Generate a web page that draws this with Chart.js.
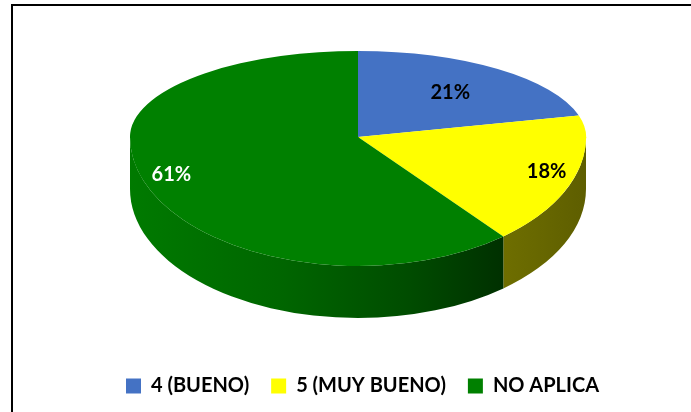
<!DOCTYPE html>
<html>
<head>
<meta charset="utf-8">
<script src="https://cdn.jsdelivr.net/npm/chart.js@4"></script>
<style>
html, body { margin: 0; padding: 0; background: #fff; }
#wrap { position: relative; width: 691px; height: 412px; }
</style>
</head>
<body>
<div id="wrap"><canvas id="chart-pie3d"></canvas></div>
<script>
const categories = ['4 (BUENO)', '5 (MUY BUENO)', 'NO APLICA'];
const percents = [21, 18, 61];
const topColors = ['#4472C4', '#FFFF00', '#008000'];
const labelColors = ['#000000', '#000000', '#ffffff'];

// tilted pie on screen: vertex, half widths, wall depth
const PIE = { cx: 358, cy: 137, rx: 228, ryTop: 86, ryBottom: 129, depth: 52 };
const LABEL_K = [0.66, 0.87, 0.87];

function sideGradient(ctx, i, x0, x1) {
    const g = ctx.createLinearGradient(x0, 0, x1, 0);
    if (i === 2) {
        g.addColorStop(0, '#007a00');
        g.addColorStop(0.4, '#006600');
        g.addColorStop(0.75, '#004c00');
        g.addColorStop(1, '#003000');
    } else if (i === 1) {
        g.addColorStop(0, '#6e6e00');
        g.addColorStop(1, '#5e5e00');
    } else {
        g.addColorStop(0, '#2f5597');
        g.addColorStop(1, '#203864');
    }
    return g;
}

const pie3d = {
    id: 'pie3d',
    beforeDraw(chart) {
        const ctx = chart.ctx;
        ctx.save();
        ctx.strokeStyle = '#000';
        ctx.lineWidth = 2;
        ctx.strokeRect(12, 5, 900, 600);
        ctx.restore();
    },
    beforeDatasetsDraw(chart) {
        const ctx = chart.ctx;
        const arcs = chart.getDatasetMeta(0).data;

        // walls, only the front half of the rim is seen
        arcs.forEach((arc, i) => {
            const a = Math.max(arc.startAngle, 0);
            const b = Math.min(arc.endAngle, Math.PI);
            if (b <= a) return;
            const xa = PIE.cx + Math.cos(a) * PIE.rx;
            const xb = PIE.cx + Math.cos(b) * PIE.rx;
            ctx.save();
            ctx.beginPath();
            ctx.ellipse(PIE.cx, PIE.cy, PIE.rx, PIE.ryBottom, 0, a, b, false);
            ctx.ellipse(PIE.cx, PIE.cy + PIE.depth, PIE.rx, PIE.ryBottom, 0, b, a, true);
            ctx.closePath();
            ctx.fillStyle = sideGradient(ctx, i, xb, xa);
            ctx.fill();
            ctx.restore();
        });

        // top face, two half ellipses to fake the perspective
        const drawTop = (ry, y0, h) => {
            const r = arcs[0].outerRadius;
            ctx.save();
            ctx.beginPath();
            ctx.rect(0, y0, chart.width, h);
            ctx.clip();
            ctx.translate(PIE.cx, PIE.cy);
            ctx.scale(PIE.rx / r, ry / r);
            ctx.translate(-arcs[0].x, -arcs[0].y);
            arcs.forEach(arc => arc.draw(ctx));
            ctx.restore();
        };
        drawTop(PIE.ryTop, 0, PIE.cy + 1);
        drawTop(PIE.ryBottom, PIE.cy, chart.height);
        return false;
    },
    afterDraw(chart) {
        const ctx = chart.ctx;
        const arcs = chart.getDatasetMeta(0).data;
        ctx.save();
        ctx.font = 'bold 20px Lato';
        ctx.textAlign = 'center';
        ctx.textBaseline = 'middle';
        arcs.forEach((arc, i) => {
            const mid = (arc.startAngle + arc.endAngle) / 2;
            const s = Math.sin(mid);
            const ry = s < 0 ? PIE.ryTop : PIE.ryBottom;
            const x = PIE.cx + Math.cos(mid) * PIE.rx * LABEL_K[i];
            const y = PIE.cy + s * ry * LABEL_K[i];
            ctx.fillStyle = labelColors[i];
            ctx.fillText(percents[i] + '%', x, y);
        });
        ctx.restore();
    }
};

const ctx = document.getElementById('chart-pie3d');

new Chart(ctx, {
    type: 'pie',
    data: {
        labels: categories,
        datasets: [
            {
                label: 'Respuestas',
                data: percents,
                backgroundColor: topColors,
                borderWidth: 0,
            },
        ],
    },
    options: {
        responsive: true,
        maintainAspectRatio: false,
        animation: false,
        layout: {
            padding: { left: 34, bottom: 6 }
        },
        plugins: {
            legend: {
                position: 'bottom',
                labels: {
                    boxWidth: 15,
                    boxHeight: 15,
                    padding: 22,
                    color: '#000',
                    font: { family: 'Lato', size: 20, weight: 'bold' },
                },
            },
            tooltip: { enabled: false },
        },
    },
    plugins: [pie3d],
});
</script>
</body>
</html>
